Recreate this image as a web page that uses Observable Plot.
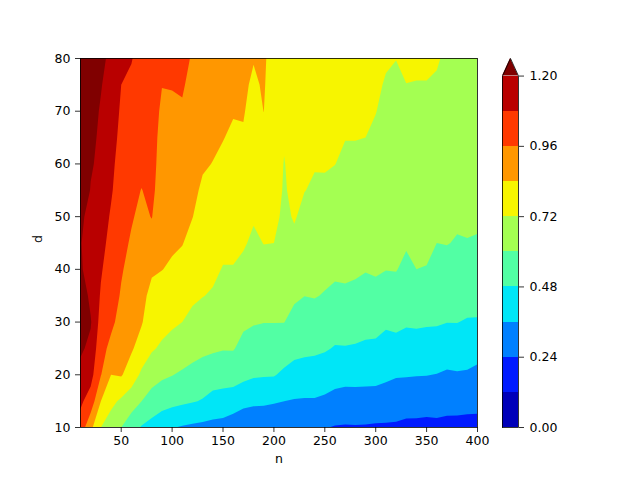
<!DOCTYPE html>
<html><head><meta charset="utf-8">
<script src="https://cdn.jsdelivr.net/npm/d3@7"></script>
<script src="https://cdn.jsdelivr.net/npm/@observablehq/plot@0.6"></script>
<style>
body{margin:0;background:#fff}
#wrap{position:relative;width:640px;height:480px;background:#fff}
#wrap svg{position:absolute;left:0;top:0}
</style>
</head><body><div id="wrap"></div>
<script>
// grid coordinates
const n = [10,20,30,40,50,60,70,80,90,100,110,120,130,140,150,160,170,180,190,200,
           210,220,230,240,250,260,270,280,290,300,310,320,330,340,350,360,370,380,390,400];
const d = [10,15,20,25,30,35,40,45,50,55,60,65,70,75,80];
// z[i][j] = value at n[i], d[j]
const z = [
 [1.03,1.10,1.16,1.22,1.35,1.28,1.22,1.21,1.23,1.35,1.42,1.46,1.50,1.50,1.50],
 [0.87,1.03,1.12,1.17,1.21,1.17,1.13,1.12,1.15,1.19,1.22,1.24,1.26,1.28,1.30],
 [0.72,0.84,0.965,1.00,1.035,1.07,1.09,1.11,1.125,1.14,1.155,1.17,1.185,1.21,1.26],
 [0.66,0.75,0.84,0.93,0.985,1.01,1.03,1.05,1.07,1.09,1.10,1.11,1.12,1.13,1.14],
 [0.60,0.70,0.85,0.89,0.92,0.95,0.97,0.99,1.01,1.03,1.045,1.06,1.07,1.08,1.09],
 [0.53,0.655,0.78,0.854,0.878,0.901,0.925,0.948,0.97,0.989,1.008,1.027,1.046,1.065,1.084],
 [0.47,0.60,0.70,0.789,0.849,0.87,0.891,0.913,0.934,0.957,0.99,1.00,1.02,1.035,1.05],
 [0.44,0.55,0.65,0.732,0.771,0.81,0.854,0.911,0.964,0.99,1.00,1.00,1.00,1.00,1.00],
 [0.40,0.527,0.619,0.703,0.756,0.80,0.842,0.859,0.876,0.893,0.91,0.927,0.945,0.962,0.98],
 [0.365,0.515,0.603,0.676,0.738,0.782,0.827,0.853,0.871,0.89,0.908,0.927,0.945,0.964,0.985],
 [0.35,0.50,0.586,0.655,0.72,0.763,0.806,0.844,0.865,0.886,0.907,0.928,0.949,0.97,0.99],
 [0.338,0.488,0.57,0.636,0.692,0.738,0.773,0.808,0.842,0.86,0.878,0.896,0.914,0.932,0.95],
 [0.33,0.472,0.554,0.622,0.673,0.723,0.748,0.774,0.801,0.827,0.849,0.867,0.884,0.902,0.92],
 [0.325,0.441,0.538,0.614,0.662,0.71,0.74,0.764,0.789,0.813,0.838,0.854,0.869,0.885,0.90],
 [0.318,0.434,0.53,0.606,0.642,0.679,0.715,0.743,0.769,0.795,0.822,0.843,0.857,0.872,0.886],
 [0.292,0.423,0.529,0.607,0.644,0.68,0.716,0.739,0.761,0.783,0.804,0.826,0.846,0.863,0.88],
 [0.255,0.401,0.508,0.567,0.619,0.658,0.697,0.73,0.755,0.78,0.805,0.83,0.847,0.858,0.87],
 [0.262,0.384,0.493,0.553,0.607,0.639,0.671,0.703,0.729,0.748,0.767,0.786,0.805,0.824,0.845],
 [0.264,0.381,0.489,0.546,0.602,0.643,0.684,0.722,0.746,0.77,0.794,0.818,0.841,0.851,0.86],
 [0.25,0.372,0.487,0.545,0.602,0.642,0.681,0.72,0.745,0.755,0.76,0.765,0.77,0.775,0.78],
 [0.26,0.36,0.46,0.536,0.602,0.62,0.64,0.675,0.70,0.712,0.717,0.727,0.735,0.742,0.75],
 [0.265,0.353,0.441,0.511,0.567,0.616,0.657,0.698,0.728,0.74,0.745,0.75,0.756,0.763,0.77],
 [0.265,0.35,0.434,0.503,0.552,0.601,0.633,0.664,0.695,0.722,0.729,0.737,0.745,0.752,0.76],
 [0.272,0.351,0.429,0.50,0.556,0.605,0.631,0.657,0.683,0.709,0.725,0.734,0.742,0.751,0.76],
 [0.245,0.34,0.42,0.49,0.542,0.594,0.625,0.653,0.682,0.71,0.725,0.732,0.74,0.747,0.755],
 [0.233,0.324,0.402,0.473,0.527,0.58,0.617,0.643,0.67,0.697,0.721,0.728,0.736,0.743,0.75],
 [0.23,0.315,0.397,0.474,0.531,0.586,0.616,0.638,0.66,0.682,0.705,0.722,0.73,0.737,0.745],
 [0.232,0.317,0.397,0.47,0.525,0.578,0.613,0.636,0.66,0.683,0.706,0.722,0.728,0.734,0.74],
 [0.23,0.317,0.394,0.462,0.516,0.564,0.605,0.628,0.651,0.674,0.697,0.72,0.727,0.733,0.74],
 [0.226,0.315,0.393,0.458,0.517,0.574,0.61,0.63,0.649,0.668,0.687,0.706,0.722,0.728,0.735],
 [0.225,0.307,0.381,0.439,0.497,0.552,0.602,0.618,0.635,0.651,0.667,0.683,0.70,0.716,0.725],
 [0.224,0.296,0.369,0.442,0.506,0.561,0.604,0.619,0.634,0.648,0.663,0.677,0.692,0.707,0.721],
 [0.214,0.291,0.367,0.433,0.492,0.535,0.579,0.609,0.628,0.646,0.664,0.682,0.70,0.719,0.735],
 [0.213,0.289,0.364,0.432,0.496,0.548,0.60,0.617,0.634,0.65,0.667,0.684,0.701,0.717,0.735],
 [0.209,0.286,0.363,0.429,0.492,0.544,0.597,0.616,0.633,0.65,0.667,0.683,0.70,0.717,0.735],
 [0.214,0.286,0.357,0.428,0.49,0.527,0.564,0.60,0.619,0.637,0.655,0.673,0.692,0.71,0.728],
 [0.21,0.278,0.346,0.415,0.482,0.524,0.566,0.603,0.617,0.632,0.647,0.661,0.676,0.69,0.705],
 [0.207,0.279,0.351,0.418,0.482,0.52,0.557,0.594,0.612,0.627,0.641,0.656,0.671,0.685,0.70],
 [0.204,0.276,0.348,0.411,0.473,0.516,0.556,0.597,0.613,0.626,0.64,0.654,0.668,0.681,0.695],
 [0.207,0.27,0.333,0.401,0.472,0.515,0.554,0.594,0.611,0.624,0.637,0.65,0.663,0.677,0.69]
];
const levels = [0, 0.12, 0.24, 0.36, 0.48, 0.6, 0.72, 0.84, 0.96, 1.08, 1.2];
const colors = ["#0000b9","#001aff","#0080ff","#00e6f7","#52ffa4","#a4ff52",
                "#f7f500","#ff9700","#ff3900","#b90000","#800000"];
const nTicks = [50,100,150,200,250,300,350,400];
const dTicks = [10,20,30,40,50,60,70,80];
const cbTicks = [0, 0.24, 0.48, 0.72, 0.96, 1.2];

(function () {
  const W = n.length, H = d.length;
  const grid = new Array(W * H);
  for (let j = 0; j < H; ++j) for (let i = 0; i < W; ++i) grid[j * W + i] = z[i][j];
  const hn = (n[1] - n[0]) / 2, hd = (d[1] - d[0]) / 2;

  const font = "'DejaVu Sans', sans-serif";
  const colorScale = {type: "threshold", domain: levels.slice(1), range: colors};

  const main = Plot.plot({
    width: 640, height: 480,
    marginLeft: 80, marginRight: 163, marginTop: 58, marginBottom: 53,
    x: {domain: [n[0], n[n.length - 1]]},
    y: {domain: [d[0], d[d.length - 1]]},
    color: colorScale,
    style: {fontFamily: font, fontSize: "12.5px", color: "black", background: "transparent", overflow: "visible"},
    marks: [
      Plot.contour(grid, {
        x1: n[0] - hn, x2: n[n.length - 1] + hn,
        y1: d[0] - hd, y2: d[d.length - 1] + hd,
        width: W, height: H,
        fill: Plot.identity, stroke: "none",
        thresholds: levels, clip: true
      }),
      Plot.frame({stroke: "black", strokeWidth: 0.8}),
      Plot.axisX({ticks: nTicks, tickSize: 5, tickPadding: 4, strokeWidth: 0.8, label: null, fontSize: 12.5}),
      Plot.axisY({ticks: dTicks, tickSize: 5, tickPadding: 5, strokeWidth: 0.8, label: null, fontSize: 12.5}),
      Plot.text(["n"], {frameAnchor: "bottom", dy: 35, fontSize: 12.5}),
      Plot.text(["d"], {frameAnchor: "left", dx: -43, rotate: -90, fontSize: 12.5})
    ]
  });

  // colorbar
  const lo = levels[0], hi = levels[levels.length - 1];
  const ext = 0.05 * (hi - lo);
  const bands = levels.slice(0, -1).map((v, i) => ({lo: v, hi: levels[i + 1]}));
  const tri = [{x: 0, y: hi}, {x: 0.5, y: hi + ext}, {x: 1, y: hi}];
  const outline = [{x: 0, y: lo}, {x: 1, y: lo}, {x: 1, y: hi}, {x: 0.5, y: hi + ext}, {x: 0, y: hi}, {x: 0, y: lo}];

  const bar = Plot.plot({
    width: 640, height: 480,
    marginLeft: 502, marginRight: 122, marginTop: 58, marginBottom: 53,
    x: {domain: [0, 1], axis: null},
    y: {domain: [lo, hi + ext], axis: null},
    color: colorScale,
    style: {fontFamily: font, fontSize: "12.5px", color: "black", background: "transparent", overflow: "visible"},
    marks: [
      Plot.rect(bands, {x1: 0, x2: 1, y1: "lo", y2: "hi", fill: "lo", shapeRendering: "crispEdges"}),
      Plot.areaY(tri, {x: "x", y1: hi, y2: "y", fill: colors[colors.length - 1]}),
      Plot.line(outline, {x: "x", y: "y", stroke: "black", strokeWidth: 0.8}),
      Plot.axisY({anchor: "right", ticks: cbTicks, tickFormat: d3.format(".2f"), tickSize: 5,
                  tickPadding: 6, strokeWidth: 0.8, label: null, fontSize: 12.5})
    ]
  });

  const wrap = document.getElementById("wrap");
  wrap.appendChild(main);
  wrap.appendChild(bar);
})();
</script>
</body></html>
